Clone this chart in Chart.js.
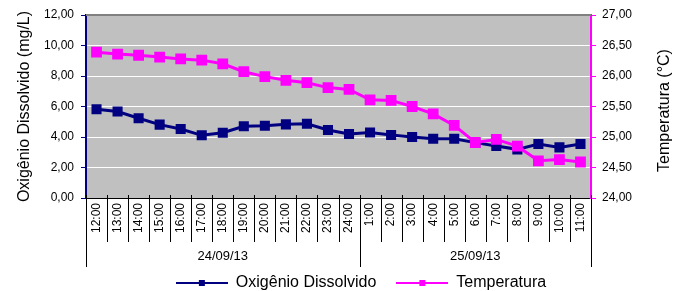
<!DOCTYPE html>
<html>
<head>
<meta charset="utf-8">
<script src="https://cdn.jsdelivr.net/npm/chart.js@4/dist/chart.umd.min.js"></script>
<style>
  html, body { margin: 0; padding: 0; background: #fff; }
  #wrap { width: 688px; height: 291px; }
</style>
</head>
<body>
<div id="wrap"><canvas id="chart" width="688" height="291"></canvas></div>
<script>
// ==========================================
// DATA
// ==========================================
var hours = ['12:00', '13:00', '14:00', '15:00', '16:00', '17:00', '18:00', '19:00', '20:00',
             '21:00', '22:00', '23:00', '24:00', '1:00', '2:00', '3:00', '4:00', '5:00',
             '6:00', '7:00', '8:00', '9:00', '10:00', '11:00'];
var days = ['24/09/13', '25/09/13'];
var dayCounts = [13, 11];

var oxigenio = [5.82, 5.67, 5.23, 4.81, 4.52, 4.11, 4.28, 4.70, 4.74, 4.83, 4.87, 4.46,
                4.20, 4.30, 4.13, 4.00, 3.89, 3.89, 3.63, 3.41, 3.19, 3.54, 3.32, 3.54];
var temperatura = [26.39, 26.36, 26.34, 26.31, 26.28, 26.26, 26.20, 26.07, 25.99, 25.93, 25.89, 25.81,
                   25.78, 25.61, 25.60, 25.50, 25.38, 25.19, 24.91, 24.96, 24.85, 24.61, 24.63, 24.59];

var leftTicks = { min: 0, max: 12, step: 2 };
var rightTicks = { min: 24, max: 27, step: 0.5 };

var NAVY = '#000080';
var MAGENTA = '#FF00FF';
var FONT = 'Liberation Sans, Arial, sans-serif';
var PLOT_BOTTOM = 198;
var LEGEND_Y = 283;
var LEGEND_DX = 17;

function fmt(v) { return Number(v).toFixed(2).replace('.', ','); }

// legend symbol: line with a small square
function legendSymbol(color) {
    var c = document.createElement('canvas');
    c.width = 52; c.height = 8;
    var g = c.getContext('2d');
    g.strokeStyle = color; g.lineWidth = 2;
    g.beginPath(); g.moveTo(0, 4); g.lineTo(52, 4); g.stroke();
    g.fillStyle = color;
    g.fillRect(23, 1, 6, 6);
    return c;
}

// ==========================================
// PLUGINS
// ==========================================
var legendShift = {
    id: 'legendShift',
    afterLayout: function(chart) {
        var lg = chart.legend;
        if (!lg) return;
        var pad = lg.options.labels.padding;
        var center = lg.top + pad + lg.options.labels.font.size / 2;
        var dy = LEGEND_Y - center;
        lg.top += dy; lg.bottom += dy;
        lg.left += LEGEND_DX; lg.right += LEGEND_DX;
    }
};

var plotBackground = {
    id: 'plotBackground',
    beforeDraw: function(chart) {
        var a = chart.chartArea, ctx = chart.ctx;
        ctx.save();
        ctx.fillStyle = '#C0C0C0';
        ctx.fillRect(a.left, a.top, a.right - a.left, a.bottom - a.top);
        ctx.restore();
    },
    afterDraw: function(chart) {
        var a = chart.chartArea, ctx = chart.ctx;
        ctx.save();
        // top border
        ctx.strokeStyle = '#808080';
        ctx.lineWidth = 2;
        ctx.beginPath(); ctx.moveTo(a.left, a.top); ctx.lineTo(a.right, a.top); ctx.stroke();

        // category separators and day groups
        var x = chart.scales.x;
        var half = (x.getPixelForValue(1) - x.getPixelForValue(0)) / 2;
        ctx.strokeStyle = '#000';
        ctx.lineWidth = 1;
        var bounds = [0];
        var acc = 0;
        dayCounts.forEach(function(n) { acc += n; bounds.push(acc); });
        for (var i = 0; i <= hours.length; i++) {
            var px = Math.round((i < hours.length ? x.getPixelForValue(i) - half : x.getPixelForValue(i - 1) + half)) + 0.5;
            var long = bounds.indexOf(i) !== -1;
            ctx.beginPath();
            ctx.moveTo(px, a.bottom - 3);
            ctx.lineTo(px, a.bottom + (long ? 69 : 44));
            ctx.stroke();
        }
        ctx.fillStyle = '#000';
        ctx.font = '13px ' + FONT;
        ctx.textAlign = 'center';
        ctx.textBaseline = 'middle';
        for (var d = 0; d < days.length; d++) {
            var x0 = x.getPixelForValue(bounds[d]) - half;
            var x1 = x.getPixelForValue(bounds[d + 1] - 1) + half;
            ctx.fillText(days[d], (x0 + x1) / 2, a.bottom + 58);
        }

        // right axis title, reading upward
        var r = chart.scales.y1;
        ctx.font = '16px ' + FONT;
        ctx.translate(r.right - 23, (a.top + a.bottom) / 2 + 4);
        ctx.rotate(-Math.PI / 2);
        ctx.fillText('Temperatura (°C)', 0, 0);
        ctx.restore();
    }
};

// ==========================================
// CHART
// ==========================================
var ctx = document.getElementById('chart').getContext('2d');
new Chart(ctx, {
    type: 'line',
    data: {
        labels: hours,
        datasets: [{
            label: 'Oxigênio Dissolvido',
            data: oxigenio,
            yAxisID: 'y',
            borderColor: NAVY,
            backgroundColor: NAVY,
            borderWidth: 3,
            pointStyle: 'rect',
            pointRadius: 5,
            pointHoverRadius: 5,
            tension: 0,
            order: 1
        }, {
            label: 'Temperatura',
            data: temperatura,
            yAxisID: 'y1',
            borderColor: MAGENTA,
            backgroundColor: MAGENTA,
            borderWidth: 3,
            pointStyle: 'rect',
            pointRadius: 5.5,
            pointHoverRadius: 5.5,
            tension: 0,
            order: 0
        }]
    },
    options: {
        responsive: false,
        animation: false,
        layout: { padding: { top: 15, left: 0, right: 0, bottom: 0 } },
        plugins: {
            tooltip: { enabled: false },
            legend: {
                position: 'bottom',
                labels: {
                    color: '#000',
                    font: { family: FONT, size: 16 },
                    usePointStyle: true,
                    pointStyleWidth: 52,
                    boxHeight: 8,
                    padding: 20,
                    generateLabels: function(chart) {
                        var items = Chart.defaults.plugins.legend.labels.generateLabels(chart);
                        items.sort(function(p, q) { return p.datasetIndex - q.datasetIndex; });
                        items.forEach(function(it) {
                            it.pointStyle = legendSymbol(chart.data.datasets[it.datasetIndex].borderColor);
                        });
                        return items;
                    }
                }
            }
        },
        scales: {
            x: {
                type: 'category',
                offset: true,
                grid: { display: false, drawTicks: false, offset: true },
                border: { display: true, color: '#000', width: 1 },
                ticks: {
                    autoSkip: false,
                    maxRotation: 90,
                    minRotation: 90,
                    padding: 5,
                    color: '#000',
                    font: { family: FONT, size: 12 }
                },
                afterFit: function(s) {
                    var lg = s.chart.legend;
                    var lh = lg ? lg.height : 0;
                    s.height = s.chart.height - PLOT_BOTTOM - lh;
                }
            },
            y: {
                position: 'left',
                min: leftTicks.min,
                max: leftTicks.max,
                ticks: {
                    stepSize: leftTicks.step,
                    padding: 7,
                    color: '#000',
                    font: { family: FONT, size: 12 },
                    callback: function(v) { return fmt(v); }
                },
                grid: { color: '#FFFFFF', tickColor: NAVY, tickLength: 5, lineWidth: 1 },
                border: { color: NAVY, width: 2 },
                title: {
                    display: true,
                    text: 'Oxigênio Dissolvido (mg/L)',
                    color: '#000',
                    font: { family: FONT, size: 16 },
                    padding: { top: 15, bottom: 0 }
                },
                afterFit: function(s) { s.width = 86; }
            },
            y1: {
                position: 'right',
                min: rightTicks.min,
                max: rightTicks.max,
                ticks: {
                    stepSize: rightTicks.step,
                    padding: 6,
                    color: '#000',
                    font: { family: FONT, size: 12 },
                    callback: function(v) { return fmt(v); }
                },
                grid: { drawOnChartArea: false, tickColor: MAGENTA, tickLength: 5 },
                border: { color: MAGENTA, width: 2 },
                afterFit: function(s) { s.width = 97; }
            }
        }
    },
    plugins: [legendShift, plotBackground]
});
</script>
</body>
</html>
